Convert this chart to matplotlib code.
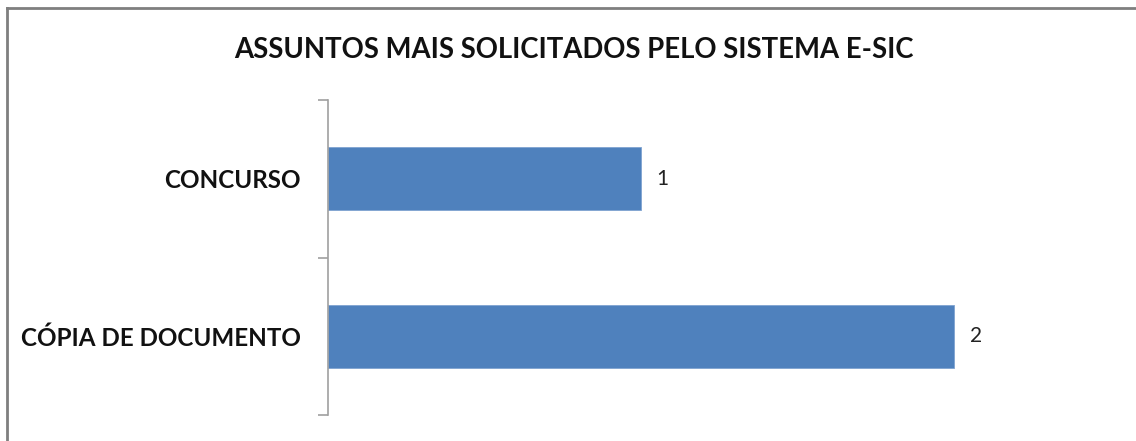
import matplotlib.pyplot as plt
from matplotlib.lines import Line2D

# Dados do gráfico
categorias = ["CÓPIA DE DOCUMENTO", "CONCURSO"]
valores = [2, 1]
titulo = "ASSUNTOS MAIS SOLICITADOS PELO SISTEMA E-SIC"

fig = plt.figure(figsize=(11.36, 4.41), dpi=100)

# Borda cinza do quadro (topo e esquerda)
fig.add_artist(Line2D([7 / 1136, 7 / 1136], [0, 1 - 8 / 441], color="#7f7f7f", lw=2, transform=fig.transFigure))
fig.add_artist(Line2D([7 / 1136, 1], [1 - 8 / 441, 1 - 8 / 441], color="#7f7f7f", lw=2, transform=fig.transFigure))

ax = fig.add_axes([328 / 1136, 1 - 415 / 441, (1050 - 328) / 1136, (415 - 100) / 441])

barras = ax.barh(categorias, valores, height=0.4, color="#4F81BD", edgecolor="#7FA3D0", linewidth=0.6)
ax.set_ylim(-0.5, 1.5)
ax.set_xlim(0, 722 / 313)

# Rótulos dos valores
for b, v in zip(barras, valores):
    ax.text(b.get_width() + 0.05, b.get_y() + b.get_height() / 2, str(v),
            va="center", ha="left", fontsize=15, family="Lato", color="#222222")

# Eixo y com marcas entre as categorias
ax.set_yticks([-0.5, 0.5, 1.5])
ax.set_yticklabels([])
ax.set_yticks([0, 1], minor=True)
ax.set_yticklabels(categorias, minor=True, fontsize=17.4, family="Lato", fontweight="bold", color="#111111")
ax.tick_params(axis="y", which="major", length=7, color="#a0a0a0", width=1.2)
ax.tick_params(axis="y", which="minor", length=0, pad=19.4)
ax.set_xticks([])

for s in ["top", "right", "bottom"]:
    ax.spines[s].set_visible(False)
ax.spines["left"].set_color("#a0a0a0")
ax.spines["left"].set_linewidth(1.2)

fig.text(574 / 1136, 1 - 50 / 441, titulo, ha="center", va="center",
         fontsize=19.8, family="Lato", fontweight="bold", color="#111111")

fig.savefig("out.png", dpi=100)
